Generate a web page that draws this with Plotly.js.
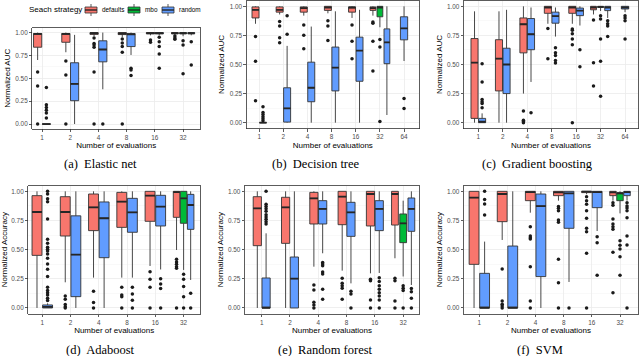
<!DOCTYPE html>
<html>
<head>
<meta charset="utf-8">
<script src="https://cdn.plot.ly/plotly-3.0.1.min.js"></script>
<style>
  body { margin: 0; background: #fff; }
  #chart { width: 640px; height: 356px; }
</style>
</head>
<body>
<div id="chart"></div>
<script>
var evals6 = ['1', '2', '4', '8', '16', '32'];
var evals7 = ['1', '2', '4', '8', '16', '32', '64'];
var strategies = ['defaults', 'mbo', 'random'];
var fills = ['#F8766D', '#00BA38', '#619CFF'];

// rows: [evaluations, q1, median, q3, lower whisker, upper whisker, outliers]
// (a) Elastic net
var enetDefaults = [
  ['1', 0.84, 0.985, 0.99, 0.70, 1.00, [0.57, 0.415, 0]],
  ['2', 0.894, 0.985, 0.99, 0.785, 1.00, [0.69, 0.535, 0]],
  ['4', 0.98, 0.995, 1.00, 0.96, 1.00, [0.94, 0.88, 0.865, 0.84, 0.57, 0]],
  ['8', 0.978, 0.99, 1.00, 0.95, 1.00, [0.93, 0.887, 0.847, 0.785, 0]],
  ['16', 0.985, 0.995, 1.00, 0.97, 1.00, [0.92, 0.894]],
  ['32', 0.985, 0.995, 1.00, 0.975, 1.00, [0.963, 0.94, 0.927]]
];
var enetMbo = [
  ['32', 0.985, 0.995, 1.00, 0.96, 1.00, [0.91, 0.865, 0.55]]
];
var enetRandom = [
  ['1', 0, 0, 0, 0, 0, [0.40, 0.21, 0.18, 0.15, 0.12, 0.066]],
  ['2', 0.255, 0.438, 0.67, 0, 0.975, []],
  ['4', 0.68, 0.815, 0.91, 0.38, 1.00, [0]],
  ['8', 0.847, 0.98, 0.99, 0.755, 1.00, [0.61, 0.59, 0.53]],
  ['16', 0.985, 0.995, 1.00, 0.97, 1.00, [0.95, 0.90, 0.847, 0.766, 0.61]],
  ['32', 0.985, 0.995, 1.00, 0.97, 1.00, [0.90, 0.646]]
];

// (b) Decision tree
var treeDefaults = [
  ['1', 0.90, 0.97, 0.995, 0.85, 1.00, [0.74, 0.527, 0.188]],
  ['2', 0.95, 0.97, 0.995, 0.93, 1.00, [0.87, 0.83, 0.73, 0.687]],
  ['4', 0.95, 0.985, 0.995, 0.92, 1.00, [0.84, 0.752, 0.635]],
  ['8', 0.965, 0.99, 1.00, 0.94, 1.00, [0.877, 0.83, 0.706]],
  ['16', 0.95, 0.99, 0.995, 0.90, 1.00, [0.84, 0.70, 0.55]],
  ['32', 0.965, 0.985, 0.995, 0.92, 1.00, [0.865, 0.855, 0.70, 0.444]]
];
var treeMbo = [
  ['32', 0.91, 0.99, 1.00, 0.82, 1.00, [0.715, 0.65, 0.01]]
];
var treeRandom = [
  ['1', 0, 0, 0, 0, 0, [0.137, 0.088, 0.07, 0.05, 0.034, 0.017]],
  ['2', 0.005, 0.123, 0.30, 0, 0.66, [0.92, 0.76]],
  ['4', 0.18, 0.30, 0.52, 0, 0.826, []],
  ['8', 0.273, 0.473, 0.65, 0, 0.957, []],
  ['16', 0.356, 0.62, 0.735, 0, 0.97, []],
  ['32', 0.507, 0.69, 0.806, 0.066, 1.00, []],
  ['64', 0.712, 0.81, 0.91, 0.53, 1.00, [0.208, 0.122]]
];

// (c) Gradient boosting
var gbmDefaults = [
  ['1', 0.037, 0.516, 0.723, 0, 0.957, []],
  ['2', 0.273, 0.55, 0.713, 0, 0.957, []],
  ['4', 0.60, 0.846, 0.90, 0.25, 1.00, [0.10, 0.02, 0.01, 0]],
  ['8', 0.94, 0.99, 1.00, 0.85, 1.00, [0.81, 0.55]],
  ['16', 0.94, 0.99, 1.00, 0.85, 1.00, [0.806, 0.795, 0.764, 0.72, 0.67, 0]],
  ['32', 0.97, 0.99, 1.00, 0.93, 1.00, [0.883, 0.516, 0.316]]
];
var gbmMbo = [
  ['32', 0.99, 0.995, 1.00, 0.96, 1.00, [0.92, 0.89, 0.72, 0.527, 0.228]]
];
var gbmRandom = [
  ['1', 0, 0.008, 0.037, 0, 0.08, [0.507, 0.35, 0.20, 0.18, 0.165, 0.128]],
  ['2', 0.25, 0.50, 0.64, 0, 0.97, []],
  ['4', 0.627, 0.76, 0.895, 0.35, 0.99, [0.085]],
  ['8', 0.855, 0.915, 0.95, 0.74, 0.99, [0.644, 0.60, 0.578, 0.535, 0.513]],
  ['16', 0.92, 0.963, 0.985, 0.835, 1.00, [0.627, 0.48]],
  ['32', 0.963, 0.99, 1.00, 0.90, 1.00, [0.877, 0.85, 0.83, 0.74]],
  ['64', 0.977, 0.99, 1.00, 0.95, 1.00, [0.92, 0.90, 0.877, 0.72]]
];

// (d) Adaboost
var adaDefaults = [
  ['1', 0.451, 0.823, 0.963, 0, 1.00, []],
  ['2', 0.617, 0.823, 0.954, 0.22, 1.00, [0.103, 0.074, 0.029, 0.011, 0]],
  ['4', 0.663, 0.863, 0.977, 0.26, 1.00, [0.143, 0.046, 0]],
  ['8', 0.691, 0.911, 0.991, 0.26, 1.00, [0.177, 0.111, 0.097, 0]],
  ['16', 0.743, 0.963, 1.00, 0.36, 1.00, [0.311, 0.246, 0.177, 0]],
  ['32', 0.777, 0.994, 1.00, 0.497, 1.00, [0.417, 0.394, 0.374, 0.354, 0.34, 0]]
];
var adaMbo = [
  ['32', 0.726, 0.94, 1.00, 0.326, 1.00, [0.289, 0.246, 0.183, 0.097, 0]]
];
var adaRandom = [
  ['1', 0, 0.01, 0.026, 0, 0.04, [1.0, 0.977, 0.937, 0.91, 0.763, 0.59, 0.554, 0.52, 0.503, 0.489,
    0.463, 0.426, 0.377, 0.331, 0.269, 0.177, 0.149, 0.131, 0.111, 0.083, 0.063]],
  ['2', 0.097, 0.457, 0.79, 0, 1.00, []],
  ['4', 0.431, 0.769, 0.909, 0, 1.00, []],
  ['8', 0.649, 0.82, 0.94, 0.26, 1.00, [0.177, 0.12, 0.066, 0]],
  ['16', 0.703, 0.869, 0.966, 0.33, 1.00, [0.251, 0.206, 0.166, 0]],
  ['32', 0.674, 0.883, 0.974, 0.24, 1.00, [0.126, 0]]
];

// (e) Random forest
var rfDefaults = [
  ['1', 0.534, 0.854, 0.954, 0, 1.00, []],
  ['2', 0.554, 0.863, 0.949, 0, 1.00, []],
  ['4', 0.72, 0.94, 0.991, 0.354, 1.00, [0.197, 0.154, 0.049, 0.026, 0]],
  ['8', 0.714, 0.954, 1.00, 0.32, 1.00, [0.254, 0.211, 0.191, 0.169, 0.074]],
  ['16', 0.703, 0.977, 1.00, 0.297, 1.00, [0.246, 0.234, 0.069, 0]],
  ['32', 0.711, 0.977, 1.00, 0.426, 1.00, [0.254, 0.234, 0.06, 0]]
];
var rfMbo = [
  ['32', 0.56, 0.726, 0.806, 0.27, 0.92, [0.19, 0.17, 0.15, 0]]
];
var rfRandom = [
  ['1', 0, 0, 0.257, 0, 0.64, [1.0, 0.89, 0.87, 0.85, 0.83, 0.80, 0.78, 0.76, 0.74, 0.72]],
  ['2', 0, 0.251, 0.437, 0, 1.00, []],
  ['4', 0.72, 0.849, 0.92, 0.469, 1.00, [0.389, 0.377, 0.363, 0.309, 0.291, 0.16, 0.074]],
  ['8', 0.614, 0.82, 0.906, 0.211, 1.00, [0.143, 0.12, 0]],
  ['16', 0.663, 0.849, 0.92, 0.30, 1.00, [0.26, 0.226, 0.191, 0.16, 0.131, 0.103, 0.069, 0]],
  ['32', 0.657, 0.849, 0.943, 0.197, 1.00, [0.166, 0.14, 0.083, 0]]
];

// (f) SVM
var svmDefaults = [
  ['1', 0.374, 0.946, 1.00, 0, 1.00, []],
  ['2', 0.74, 0.977, 1.00, 0.583, 1.00, [0.334, 0.06, 0.031, 0.017, 0]],
  ['4', 0.92, 0.994, 1.00, 0.817, 1.00, [0.697, 0.617, 0.603, 0.591, 0.354, 0.06, 0]],
  ['8', 0.963, 0.991, 1.00, 0.92, 1.00, [0.869, 0.854, 0.834, 0.754, 0.734, 0.417, 0.217, 0]],
  ['16', 0.989, 0.997, 1.00, 0.975, 1.00, [0.954, 0.92, 0.889, 0.834, 0.769, 0.683, 0.654, 0.469, 0]],
  ['32', 0.963, 0.991, 1.00, 0.92, 1.00, [0.903, 0.88, 0.763, 0.72, 0.697, 0.674, 0.477, 0.131]]
];
var svmMbo = [
  ['32', 0.92, 0.983, 0.989, 0.811, 1.00, [0.577, 0.537, 0.506, 0.44, 0.28]]
];
var svmRandom = [
  ['1', 0, 0, 0.297, 0, 0.569, [1.0, 0.931, 0.891, 0.797]],
  ['2', 0, 0, 0.531, 0, 1.00, []],
  ['4', 0.269, 0.874, 0.977, 0, 1.00, []],
  ['8', 0.683, 0.983, 1.00, 0.223, 1.00, [0]],
  ['16', 0.86, 0.994, 1.00, 0.66, 1.00, [0.611, 0.56, 0.28]],
  ['32', 0.963, 0.994, 1.00, 0.92, 1.00, [0.903, 0.874, 0.857, 0.834, 0.774, 0.617, 0.54, 0]]
];

var W = 640, H = 356;
function fx(p) { return p / W; }
function fy(p) { return 1 - p / H; }

// panel boxes in pixels: [left, right, top, bottom]
var panels = [
  {series: [enetDefaults, enetMbo, enetRandom], cats: evals6, ytitle: 'Normalized AUC',
   caption: '(a)  Elastic net', box: [32.3, 200, 28, 128.6], xr: [0.656, 6.6], dodge: 'single', capx: 100, capy: 164},
  {series: [treeDefaults, treeMbo, treeRandom], cats: evals7, ytitle: 'Normalized AUC',
   caption: '(b)  Decision tree', box: [246.7, 419, 0.5, 128.5], xr: [0.48, 7.62], dodge: 'single', capx: 316, capy: 164},
  {series: [gbmDefaults, gbmMbo, gbmRandom], cats: evals7, ytitle: 'Normalized AUC',
   caption: '(c)  Gradient boosting', box: [464, 638, 0.5, 128.5], xr: [0.415, 7.53], dodge: 'single', capx: 537, capy: 164},
  {series: [adaDefaults, adaMbo, adaRandom], cats: evals6, ytitle: 'Normalized Accuracy',
   caption: '(d)  Adaboost', box: [28.3, 200, 185.5, 313.8], xr: [0.505, 6.58], dodge: 'dodge', capx: 100, capy: 350},
  {series: [rfDefaults, rfMbo, rfRandom], cats: evals6, ytitle: 'Normalized Accuracy',
   caption: '(e)  Random forest', box: [245, 419, 185.5, 313.8], xr: [0.41, 6.56], dodge: 'single', capx: 325, capy: 350},
  {series: [svmDefaults, svmMbo, svmRandom], cats: evals6, ytitle: 'Normalized Accuracy',
   caption: '(f)  SVM', box: [464, 638, 185.5, 313.8], xr: [0.455, 6.64], dodge: 'dodge', capx: 540, capy: 350}
];

// box offsets and widths by number of boxes in a category
var dodgeSpec = {
  single: {1: [[0], 0.3], 2: [[-0.155, 0.155], 0.29], 3: [[-0.29, 0, 0.29], 0.24]},
  dodge: {1: [[0], 0.35], 2: [[-0.1875, 0.1875], 0.35], 3: [[-0.25, 0, 0.25], 0.23]}
};

var font = 'Liberation Sans, Arial, sans-serif';
var data = [];
var layout = {
  width: W, height: H,
  margin: {l: 0, r: 0, t: 0, b: 0},
  paper_bgcolor: '#ffffff',
  plot_bgcolor: '#ffffff',
  showlegend: false,
  font: {family: font, color: '#000000'},
  annotations: [],
  shapes: []
};

panels.forEach(function(p, i) {
  var sfx = i === 0 ? '' : String(i + 1);
  var xa = 'x' + sfx, ya = 'y' + sfx;
  var medX = [], medY = [], outX = [], outY = [];

  p.cats.forEach(function(cat, ci) {
    var present = [];
    p.series.forEach(function(rows, si) {
      rows.forEach(function(r) { if (r[0] === cat) present.push([si, r]); });
    });
    if (!present.length) return;
    var spec = dodgeSpec[p.dodge][present.length];
    present.forEach(function(item, k) {
      var si = item[0], r = item[1];
      var pos = ci + 1 + spec[0][k], w = spec[1];
      data.push({
        type: 'box', orientation: 'v', xaxis: xa, yaxis: ya,
        x: [pos], q1: [r[1]], median: [r[2]], q3: [r[3]],
        lowerfence: [r[4]], upperfence: [r[5]],
        width: w, fillcolor: fills[si], boxpoints: false, whiskerwidth: 0,
        line: {color: '#333333', width: 0.9},
        name: strategies[si], hoverinfo: 'skip', showlegend: false
      });
      medX.push(pos - w / 2, pos + w / 2, null);
      medY.push(r[2], r[2], null);
      r[6].forEach(function(v) { outX.push(pos); outY.push(v); });
    });
  });

  data.push({
    type: 'scatter', mode: 'lines', xaxis: xa, yaxis: ya, x: medX, y: medY,
    line: {color: '#262626', width: 1.8}, hoverinfo: 'skip', showlegend: false
  });
  data.push({
    type: 'scatter', mode: 'markers', xaxis: xa, yaxis: ya, x: outX, y: outY,
    marker: {color: '#1a1a1a', size: 3.5}, hoverinfo: 'skip', showlegend: false
  });

  layout['xaxis' + sfx] = {
    domain: [fx(p.box[0]), fx(p.box[1])], anchor: ya, range: p.xr,
    tickvals: p.cats.map(function(c, ci) { return ci + 1; }), ticktext: p.cats,
    showgrid: true, gridcolor: '#EBEBEB', gridwidth: 0.8, zeroline: false,
    showline: true, mirror: true, linecolor: '#333333', linewidth: 0.8,
    ticks: 'outside', ticklen: 2.5, tickwidth: 0.8, tickcolor: '#333333',
    tickfont: {size: 6.4, color: '#4D4D4D', family: font},
    title: {text: 'Number of evaluations', font: {size: 8, color: '#000000', family: font}, standoff: 2}
  };
  layout['yaxis' + sfx] = {
    domain: [fy(p.box[3]), fy(p.box[2])], anchor: xa, range: [-0.05, 1.05],
    tick0: 0, dtick: 0.25, tickformat: '.2f',
    showgrid: true, gridcolor: '#EBEBEB', gridwidth: 0.8, zeroline: false,
    minor: {dtick: 0.125, showgrid: true, gridcolor: '#F4F4F4', gridwidth: 0.5},
    showline: true, mirror: true, linecolor: '#333333', linewidth: 0.8,
    ticks: 'outside', ticklen: 2.5, tickwidth: 0.8, tickcolor: '#333333',
    tickfont: {size: 6.4, color: '#4D4D4D', family: font},
    title: {text: p.ytitle, font: {size: 8, color: '#000000', family: font}, standoff: 3}
  };

  layout.annotations.push({
    xref: 'paper', yref: 'paper', x: fx(p.capx), y: fy(p.capy),
    xanchor: 'center', yanchor: 'middle', showarrow: false, text: p.caption,
    font: {family: 'Liberation Serif, Times New Roman, serif', size: 12.5, color: '#000000'}
  });
});

// legend ("Seach strategy") drawn above panel (a)
layout.annotations.push({
  xref: 'paper', yref: 'paper', x: fx(27), y: fy(10), xanchor: 'left', yanchor: 'middle',
  showarrow: false, text: 'Seach strategy', font: {size: 8, color: '#000000', family: font}
});
var keyX = [85, 128, 162];
strategies.forEach(function(s, si) {
  var kx = keyX[si];
  layout.shapes.push({type: 'rect', xref: 'paper', yref: 'paper',
    x0: fx(kx), x1: fx(kx + 12), y0: fy(13), y1: fy(7),
    fillcolor: fills[si], line: {color: '#333333', width: 0.8}});
  layout.shapes.push({type: 'line', xref: 'paper', yref: 'paper',
    x0: fx(kx), x1: fx(kx + 12), y0: fy(10), y1: fy(10), line: {color: '#262626', width: 1.4}});
  layout.shapes.push({type: 'line', xref: 'paper', yref: 'paper',
    x0: fx(kx + 6), x1: fx(kx + 6), y0: fy(4), y1: fy(7), line: {color: '#333333', width: 0.8}});
  layout.shapes.push({type: 'line', xref: 'paper', yref: 'paper',
    x0: fx(kx + 6), x1: fx(kx + 6), y0: fy(13), y1: fy(16), line: {color: '#333333', width: 0.8}});
  layout.annotations.push({
    xref: 'paper', yref: 'paper', x: fx(kx + 15), y: fy(10), xanchor: 'left', yanchor: 'middle',
    showarrow: false, text: s, font: {size: 6.4, color: '#000000', family: font}
  });
});

Plotly.newPlot('chart', data, layout, {staticPlot: true, displayModeBar: false});
</script>
</body>
</html>
